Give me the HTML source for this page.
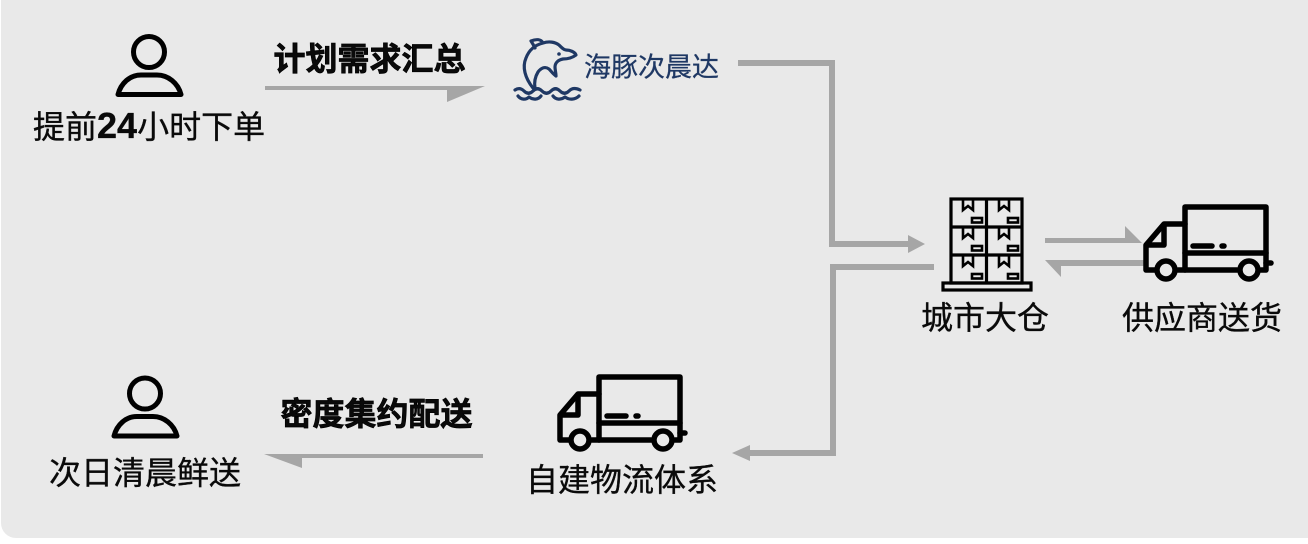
<!DOCTYPE html>
<html><head><meta charset="utf-8">
<style>
html,body{margin:0;padding:0;width:1308px;height:544px;overflow:hidden;background:#fff}
svg{display:block}
text{font-family:"Liberation Sans","Noto Sans CJK SC",sans-serif;fill:#0a0a0a}
.b{font-weight:700;stroke:#000;stroke-width:.7px}
.n{font-weight:400;stroke:#0a0a0a;stroke-width:.35px}
.a{fill:#a6a6a6;stroke:none}
</style></head><body>
<svg width="1308" height="544" viewBox="0 0 1308 544" xmlns="http://www.w3.org/2000/svg">
<defs>
<g id="person" fill="none" stroke="#000" stroke-width="5" stroke-linejoin="round">
<circle cx="149" cy="52" r="15.5"/>
<path d="M118 94.500C121 83 130 75 141 75h16C168 75 178 83 181 94.500Z"/>
</g>
<g id="truck" fill="none" stroke="#000" stroke-width="5.500" stroke-linejoin="round" stroke-linecap="round">
<path d="M1185 224V207H1266V270H1261"/>
<path d="M1237 270H1178"/>
<path d="M1155 270H1146V245L1164 224H1185V270"/>
<path d="M1185 253H1266"/>
<path d="M1164 226V245H1147"/>
<path d="M1193 246H1212"/>
<path d="M1222 246H1224"/>
<path d="M1266 263H1271"/>
<circle cx="1166" cy="270" r="9"/>
<circle cx="1249" cy="270" r="9"/>
</g>
<g id="box" fill="none" stroke="#000" stroke-width="2.600">
<path d="M963 200V210L968 206L973 210V200"/>
<rect x="972" y="218" width="10" height="4.500"/>
<path d="M999 200V210L1004 206L1009 210V200"/>
<rect x="1008" y="218" width="10" height="4.500"/>
</g>
</defs>
<rect x="1" y="-20" width="1327" height="558" rx="15" fill="#e9e9e9"/>

<!-- connectors -->
<path class="a" d="M265 86H485L447 102V90H265Z"/>
<path class="a" d="M483 454H264L302 468V458H483Z"/>
<path class="a" d="M738 60H835V241H908V235L925 244L908 253V247H829V66H738Z"/>
<path class="a" d="M934 264H830V450H750V445L732 453L750 461V456H836V270H934Z"/>
<path class="a" d="M1045 238H1125V226L1142 243H1045Z"/>
<path class="a" d="M1144 260V266H1061V277L1045 260Z"/>

<!-- people -->
<use href="#person"/>
<use href="#person" transform="translate(-4 341.500)"/>

<!-- trucks -->
<use href="#truck"/>
<use href="#truck" transform="translate(-586 170)"/>

<!-- warehouse -->
<g fill="none" stroke="#000" stroke-width="3.200">
<rect x="951" y="199" width="71" height="84"/>
<path d="M951 227H1022M951 255H1022M986.500 199V283"/>
<rect x="943" y="283" width="88" height="7"/>
</g>
<use href="#box"/>
<use href="#box" transform="translate(0 28)"/>
<use href="#box" transform="translate(0 56)"/>

<!-- dolphin -->
<g fill="none" stroke="#1f3864" stroke-width="3.200" stroke-linejoin="round" stroke-linecap="round">
<path d="M533 88C525 78 522 67 526 58C529 50 535 45 543 43C549 41 555 42 559 45C562 48 564 50 566 50C570 50 575 52 576 55C572 58 567 59 563 59C558 60 555 63 555 67C555 70 556 73 556 76C553 74 551 71 549 69C545 66 541 68 538 72C535 77 534 82 535 88"/>
<path d="M543 43C541 39 536 39 531 41C533 44 534 46 535 48"/>
<path d="M515 90C518 88 521 88 524 91C527 94 530 94 533 91C536 88 539 88 542 91C545 94 548 94 551 91C554 88 557 88 560 91C563 94 566 94 569 91C572 88 576 88 580 90"/>
<path d="M518 96C521 100 526 100 529 97C533 100 538 100 541 96"/>
<path d="M553 96C556 100 561 100 565 97C569 100 575 100 579 96"/>
</g>
<circle cx="559" cy="54" r="1.800" fill="#1f3864"/>

<!-- labels -->
<text x="33" y="138" font-size="32" class="n">提前<tspan font-weight="700" font-size="36">24</tspan>小时下单</text>
<text x="273.500" y="70" font-size="32" class="b">计划需求汇总</text>
<text x="584" y="76.500" font-size="27" class="n" style="fill:#1f3864;stroke:#1f3864;stroke-width:.25px">海豚次晨达</text>
<text x="921" y="329" font-size="32" class="n">城市大仓</text>
<text x="1122" y="329" font-size="32" class="n">供应商送货</text>
<text x="526" y="491" font-size="32" class="n">自建物流体系</text>
<text x="280.500" y="425" font-size="32" class="b">密度集约配送</text>
<text x="49" y="484" font-size="32" class="n">次日清晨鲜送</text>
</svg>
</body></html>
